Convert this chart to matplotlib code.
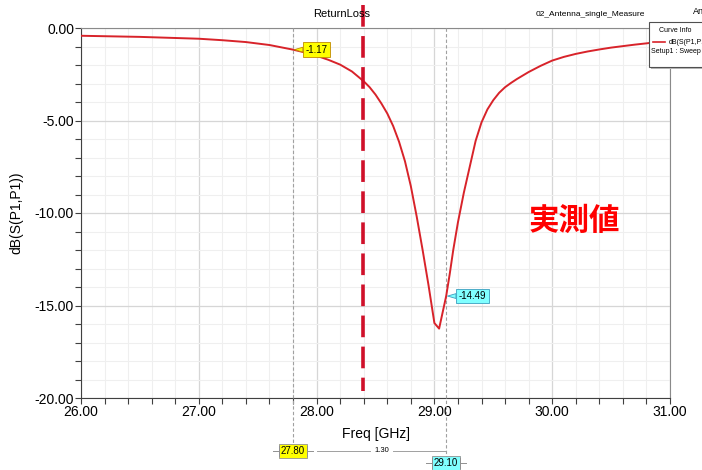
import numpy as np
import matplotlib.pyplot as plt
from matplotlib.patches import Rectangle
from matplotlib.lines import Line2D
from matplotlib.ticker import MultipleLocator, FormatStrFormatter

freq_ghz = [26.0, 26.25, 26.5, 26.75, 27.0, 27.2, 27.4, 27.6, 27.8, 27.9, 28.0, 28.1,
            28.2, 28.3, 28.4, 28.45, 28.5, 28.55, 28.6, 28.65, 28.7, 28.75, 28.8, 28.85,
            28.9, 28.95, 29.0, 29.04, 29.1, 29.13, 29.16, 29.2, 29.25, 29.3, 29.35, 29.4,
            29.45, 29.5, 29.55, 29.6, 29.65, 29.7, 29.8, 29.9, 30.0, 30.1, 30.2, 30.3,
            30.4, 30.5, 30.6, 30.7, 30.8, 30.9, 31.0]
s11_db = [-0.42, -0.45, -0.48, -0.53, -0.58, -0.66, -0.76, -0.92, -1.17, -1.32, -1.50, -1.72,
          -1.98, -2.35, -2.88, -3.2, -3.6, -4.08, -4.62, -5.3, -6.15, -7.2, -8.55, -10.2,
          -12.0, -13.9, -15.95, -16.25, -14.49, -13.3, -12.0, -10.5, -8.9, -7.5, -6.1, -5.1,
          -4.4, -3.9, -3.5, -3.2, -2.97, -2.76, -2.38, -2.05, -1.76, -1.56, -1.40, -1.27,
          -1.16, -1.06, -0.98, -0.90, -0.83, -0.75, -0.68]

marker_freqs = [27.80, 29.10]
marker_vals = [-1.17, -14.49]
marker_delta = "1.30"
design_freq = 28.39

W, H = 702, 470
plt.rcParams['font.family'] = ['Liberation Sans', 'DejaVu Sans']

fig = plt.figure(figsize=(W / 100, H / 100), dpi=100)
ax = fig.add_axes([81 / W, 1 - 398 / H, (670 - 81) / W, (398 - 28) / H])


def px(x, y):
    return x / W, 1 - y / H


ax.plot(freq_ghz, s11_db, color='#d8232a', lw=1.4, zorder=5)

ax.set_xlim(26, 31)
ax.set_ylim(-20, 0)
ax.xaxis.set_major_locator(MultipleLocator(1))
ax.xaxis.set_minor_locator(MultipleLocator(0.2))
ax.yaxis.set_major_locator(MultipleLocator(5))
ax.yaxis.set_minor_locator(MultipleLocator(1))
ax.xaxis.set_major_formatter(FormatStrFormatter('%.2f'))
ax.yaxis.set_major_formatter(FormatStrFormatter('%.2f'))
ax.grid(which='major', color='#d6d6d6', lw=0.9)
ax.grid(which='minor', color='#efefef', lw=0.8)
ax.set_axisbelow(True)
ax.tick_params(which='both', direction='out', length=4, width=0.8, color='#404040',
               labelsize=10, pad=1)
ax.tick_params(top=False, right=False)
for side in ['left', 'bottom']:
    ax.spines[side].set_color('#404040')
for side in ['top', 'right']:
    ax.spines[side].set_color('#8a8a8a')

ax.set_xlabel("Freq [GHz]", fontsize=10, labelpad=6)
ax.set_ylabel("dB(S(P1,P1))", fontsize=10, labelpad=8)

# titles
fig.text(*px(342, 14), "ReturnLoss", fontsize=8, ha='center', va='center')
fig.text(*px(590, 14), "02_Antenna_single_Measure", fontsize=6, ha='center', va='center')
fig.text(*px(693, 12), "An", fontsize=6.5, ha='left', va='center')

# marker lines and callouts
trans = ax.get_xaxis_transform()
colors = [('#ffff00', '#c08a00'), ('#80ffff', '#3a9fbf')]
bottoms = [-0.125, -0.16]
for f, v, (fc, ec), yb in zip(marker_freqs, marker_vals, colors, bottoms):
    ax.plot([f, f], [1, yb], transform=trans, color='#a0a0a0', lw=0.8,
            ls=(0, (3, 2)), clip_on=False, zorder=3)
    ax.annotate(f"{v:.2f}", xy=(f, v), xytext=(9, 0), textcoords='offset points',
                fontsize=7, ha='left', va='center', zorder=8,
                bbox=dict(boxstyle='square,pad=0.25', fc=fc, ec=ec, lw=0.6),
                arrowprops=dict(arrowstyle='wedge,tail_width=0.5,shrink_factor=0.5',
                                fc=fc, ec=ec, lw=0.6, shrinkA=0, shrinkB=1))

# bottom marker labels
label_y = [-0.143, -0.176]
for f, (fc, ec), yl in zip(marker_freqs, colors, label_y):
    ax.text(f, yl, f"{f:.2f}", transform=trans, fontsize=7, ha='center', va='center',
            bbox=dict(boxstyle='square,pad=0.2', fc=fc, ec='#909090', lw=0.6),
            clip_on=False)
    disp = ax.transData.transform((f, 0))[0]
    yy = ax.transAxes.transform((0, yl))[1]
    for side in [-1, 1]:
        xa = disp + side * 14
        xb = disp + side * 20
        fig.add_artist(Line2D([xa / W, xb / W], [yy / H, yy / H], color='#909090', lw=0.7))
        fig.add_artist(Line2D([xa / W, xa / W], [(yy - 5) / H, (yy + 5) / H],
                              color='#909090', lw=0.7))

# delta line
yd = -0.143
ax.plot([27.8 + 0.2, 28.45], [yd, yd], transform=trans, color='#a0a0a0', lw=0.7, clip_on=False)
ax.plot([28.65, 29.1], [yd, yd], transform=trans, color='#a0a0a0', lw=0.7, clip_on=False)
ax.text(28.55, yd, marker_delta, transform=trans, fontsize=5.5, ha='center', va='center')

# design frequency line
ax.plot([design_freq, design_freq], [1.062, 0.018], transform=trans, color='#d0102a',
        lw=2.6, ls=(0, (6, 2.6)), clip_on=False, zorder=10)

ax.text(30.19, -10.43, "実測値", fontsize=22, fontweight='bold', color='#ff0000',
        ha='center', va='center', family=['Noto Sans CJK JP', 'DejaVu Sans'], zorder=9)

# curve info box
x0, y0 = px(649, 67)
x1, y1 = px(712, 22)
fig.add_artist(Rectangle((x0 + 2 / W, y0 - 2 / H), x1 - x0, y1 - y0, fc='#b8b8b8', ec='none'))
fig.add_artist(Rectangle((x0, y0), x1 - x0, y1 - y0, fc='white', ec='#505050', lw=0.8))
fig.text(*px(675, 31), "Curve Info", fontsize=5, ha='center', va='center')
lx0, ly = px(653, 42)
lx1, _ = px(665, 42)
fig.add_artist(Line2D([lx0, lx1], [ly, ly], color='#d8232a', lw=1.2))
fig.text(*px(669, 42), "dB(S(P1,P1))", fontsize=5, ha='left', va='center')
fig.text(*px(651, 52), "Setup1 : Sweep", fontsize=5, ha='left', va='center')

fig.savefig("out.png", dpi=100)
